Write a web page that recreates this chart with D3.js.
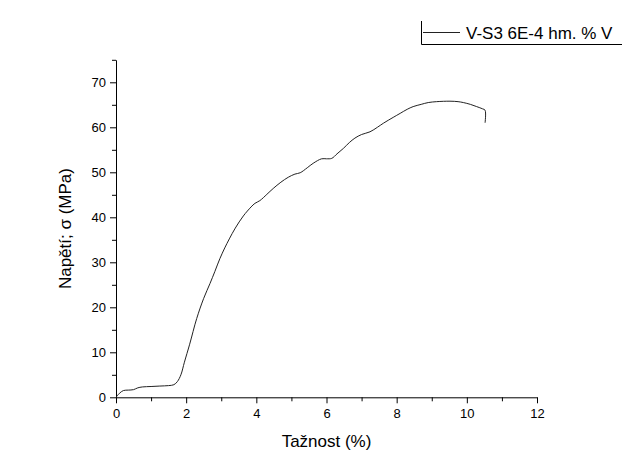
<!DOCTYPE html>
<html>
<head>
<meta charset="utf-8">
<script src="https://cdn.jsdelivr.net/npm/d3@7"></script>
<style>
  html, body { margin: 0; padding: 0; background: #ffffff; }
  svg { display: block; }
  text { font-family: "Liberation Sans", Arial, sans-serif; fill: #000; }
</style>
</head>
<body>
<svg id="chart" width="622" height="466"></svg>
<script>
// Tensile test: strain (%) vs. stress (MPa)
const strain = [0, 0.1, 0.21, 0.35, 0.5, 0.62, 0.75, 1.0, 1.25, 1.5, 1.65, 1.75, 1.85, 1.95, 2.1, 2.3, 2.5, 2.68, 2.82, 2.96,
  3.1, 3.23, 3.4, 3.63, 3.85, 3.96, 4.1, 4.3, 4.48, 4.7, 4.91, 5.1, 5.25, 5.45, 5.62, 5.86, 6.0, 6.15, 6.3, 6.48,
  6.65, 6.81, 7.0, 7.24, 7.45, 7.62, 7.9, 8.1, 8.3, 8.47, 8.7, 8.9, 9.14, 9.52, 9.75, 9.9, 10.1, 10.28, 10.45, 10.52, 10.52];
const stress = [0, 0.9, 1.5, 1.6, 1.7, 2.1, 2.3, 2.4, 2.5, 2.6, 2.8, 3.5, 5.0, 7.8, 11.8, 17.5, 22, 25.3, 28, 30.8,
  33.2, 35.2, 37.6, 40.3, 42.3, 43.1, 43.7, 45.1, 46.4, 47.8, 48.9, 49.6, 49.9, 51.0, 52, 53, 53.0, 53.1, 54.1, 55.3,
  56.6, 57.6, 58.4, 59, 60.0, 60.9, 62.2, 63.1, 64.0, 64.6, 65.1, 65.5, 65.7, 65.8, 65.7, 65.5, 65.1, 64.6, 64.1, 63.8, 61.0];

const xMajorTicks = [0, 2, 4, 6, 8, 10, 12];
const xMinorTicks = [1, 3, 5, 7, 9, 11];
const yMajorTicks = [0, 10, 20, 30, 40, 50, 60, 70];
const yMinorTicks = [5, 15, 25, 35, 45, 55, 65, 75];

const seriesName = "V-S3 6E-4 hm. % V";
const xTitle = "Tažnost (%)";
const yTitle = "Napětí; σ (MPa)";

const svg = d3.select("#chart");
const plotLeft = 116, plotRight = 537, plotTop = 59.8, plotBottom = 397.3;

const x = d3.scaleLinear().domain([0, 12]).range([plotLeft, plotRight]);
const y = d3.scaleLinear().domain([0, 75]).range([plotBottom, plotTop]);

// X axis: minor ticks first, then labelled major ticks
svg.append("g")
  .attr("transform", `translate(0,${plotBottom})`)
  .call(d3.axisBottom(x).tickValues(xMinorTicks).tickSize(4).tickSizeOuter(0).tickFormat(""))
  .call(g => g.select(".domain").remove());
const gx = svg.append("g")
  .attr("transform", `translate(0,${plotBottom})`)
  .call(d3.axisBottom(x).tickValues(xMajorTicks).tickSize(6).tickSizeOuter(0).tickPadding(5).tickFormat(d3.format("d")));
gx.selectAll("text").style("font-size", "13px");

// Y axis
svg.append("g")
  .attr("transform", `translate(${plotLeft},0)`)
  .call(d3.axisLeft(y).tickValues(yMinorTicks).tickSize(4).tickSizeOuter(0).tickFormat(""))
  .call(g => g.select(".domain").remove());
const gy = svg.append("g")
  .attr("transform", `translate(${plotLeft},0)`)
  .call(d3.axisLeft(y).tickValues(yMajorTicks).tickSize(6).tickSizeOuter(0).tickPadding(4).tickFormat(d3.format("d")));
gy.selectAll("text").style("font-size", "13px");

svg.selectAll(".domain, .tick line").attr("stroke", "#000").attr("stroke-width", 1);

// Axis titles
svg.append("text")
  .attr("x", (plotLeft + plotRight) / 2)
  .attr("y", 447)
  .attr("text-anchor", "middle")
  .style("font-size", "17px")
  .text(xTitle);

svg.append("text")
  .attr("transform", `translate(71,${(plotTop + plotBottom) / 2}) rotate(-90)`)
  .attr("text-anchor", "middle")
  .style("font-size", "17px")
  .text(yTitle);

// Stress-strain curve
const pts = strain.map((s, i) => [s, stress[i]]);
const line = d3.line()
  .x(d => x(d[0]))
  .y(d => y(d[1]))
  .curve(d3.curveCatmullRom.alpha(0.5));

svg.append("path")
  .datum(pts)
  .attr("fill", "none")
  .attr("stroke", "#222")
  .attr("stroke-width", 1)
  .attr("d", line);

// Legend (frame partly outside the drawing area)
const lg = svg.append("g");
lg.append("path")
  .attr("d", "M421.5,21 V44.5 H622")
  .attr("fill", "none")
  .attr("stroke", "#000")
  .attr("stroke-width", 1);
lg.append("line")
  .attr("x1", 423).attr("x2", 460)
  .attr("y1", 32.5).attr("y2", 32.5)
  .attr("stroke", "#222").attr("stroke-width", 1);
lg.append("text")
  .attr("x", 466)
  .attr("y", 38.5)
  .style("font-size", "17px")
  .text(seriesName);
</script>
</body>
</html>
